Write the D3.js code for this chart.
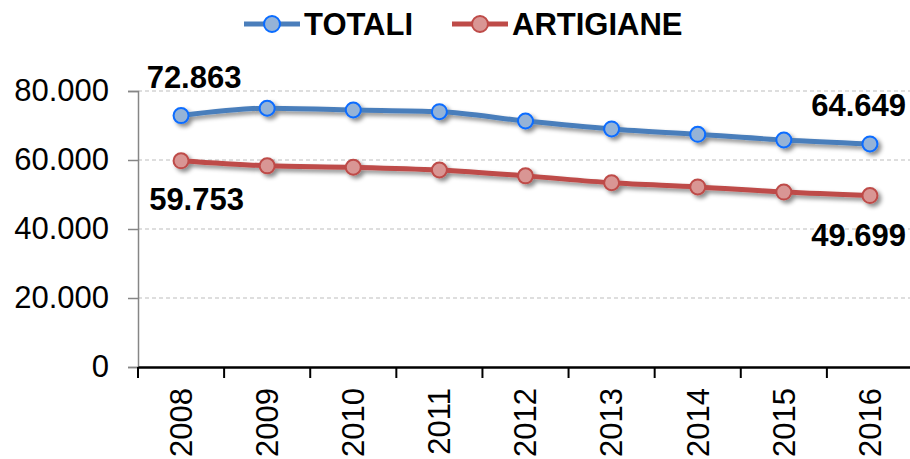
<!DOCTYPE html>
<html>
<head>
<meta charset="utf-8">
<script src="https://cdn.jsdelivr.net/npm/d3@7"></script>
<style>
  body { margin: 0; background: #fff; }
  svg { font-family: "Liberation Sans", Arial, sans-serif; }
</style>
</head>
<body>
<div id="chart"></div>
<script>
const years = ['2008', '2009', '2010', '2011', '2012', '2013', '2014', '2015', '2016'];
const totali = [72863, 75000, 74500, 74000, 71300, 69000, 67450, 65800, 64649];
const artigiane = [59753, 58300, 57900, 57100, 55400, 53400, 52200, 50700, 49699];
const yTicks = [0, 20000, 40000, 60000, 80000];

const W = 910, H = 459;
const FS = 31;
const margin = { top: 91, right: 0, bottom: 92, left: 138 };
const width = 913 - margin.left;
const height = 367 - margin.top;

const svg = d3.select('#chart').append('svg')
    .attr('width', W).attr('height', H);

const defs = svg.append('defs');
const f = defs.append('filter').attr('id', 'shadow')
    .attr('x', '-10%').attr('y', '-50%').attr('width', '130%').attr('height', '250%');
f.append('feDropShadow').attr('dx', 3).attr('dy', 3).attr('stdDeviation', 2)
    .attr('flood-color', '#000').attr('flood-opacity', 0.45);

const g = svg.append('g').attr('transform', `translate(${margin.left},${margin.top})`);

const x = d3.scaleBand().domain(years).range([0, width]);
const y = d3.scaleLinear().domain([0, 80000]).range([height, 0]);

// gridlines
g.selectAll('.grid').data(yTicks.filter(d => d > 0)).enter().append('line')
    .attr('x1', 0).attr('x2', width)
    .attr('y1', d => y(d)).attr('y2', d => y(d))
    .attr('stroke', '#bdbdbd').attr('stroke-width', 1.2)
    .attr('stroke-dasharray', '4,3');

const fmt = d => d3.format(',')(d).replace(/,/g, '.');

// y axis
const yAxis = g.append('g')
    .call(d3.axisLeft(y).tickValues(yTicks).tickSize(10).tickPadding(19).tickFormat(fmt));
yAxis.select('.domain').attr('stroke', '#868686').attr('stroke-width', 1.5);
yAxis.selectAll('.tick line').attr('stroke', '#868686').attr('stroke-width', 1.5);
yAxis.selectAll('text').attr('font-size', FS).attr('fill', '#000')
    .attr('font-family', '"Liberation Sans", Arial, sans-serif');

// x axis
const xAxis = g.append('g').attr('transform', `translate(0,${height})`)
    .call(d3.axisBottom(x).tickSize(0).tickPadding(0));
xAxis.select('.domain').attr('stroke', '#000').attr('stroke-width', 2.5);
xAxis.selectAll('.tick text')
    .attr('font-size', FS).attr('fill', '#000')
    .attr('font-family', '"Liberation Sans", Arial, sans-serif')
    .attr('transform', 'rotate(-90)')
    .attr('text-anchor', 'end')
    .attr('x', -21).attr('y', 0).attr('dy', '0.35em');
// tick marks between categories
g.selectAll('.xtick').data(years).enter().append('line')
    .attr('x1', d => x(d)).attr('x2', d => x(d))
    .attr('y1', height).attr('y2', height + 11)
    .attr('stroke', '#000').attr('stroke-width', 2);

const series = [
    { name: 'TOTALI', values: totali, line: '#4a7ebb', fill: '#95b3d7', stroke: '#0a6cff' },
    { name: 'ARTIGIANE', values: artigiane, line: '#be4b48', fill: '#d99694', stroke: '#be4b48' }
];

const cx = d => x(d) + x.bandwidth() / 2;
const line = d3.line().x((d, i) => cx(years[i])).y(d => y(d)).curve(d3.curveMonotoneX);

series.forEach(s => {
    const sg = g.append('g').attr('filter', 'url(#shadow)');
    sg.append('path').datum(s.values)
        .attr('d', line).attr('fill', 'none')
        .attr('stroke', s.line).attr('stroke-width', 5);
    sg.selectAll('circle').data(s.values).enter().append('circle')
        .attr('cx', (d, i) => cx(years[i])).attr('cy', d => y(d))
        .attr('r', 7.5).attr('fill', s.fill)
        .attr('stroke', s.stroke).attr('stroke-width', 2);
});

// data labels
const lab = (txt, xx, yy, anchor) => svg.append('text')
    .attr('x', xx).attr('y', yy).attr('text-anchor', anchor)
    .attr('font-size', FS).attr('font-weight', 'bold').attr('fill', '#000').text(txt);
const last = years.length - 1;
lab(fmt(totali[0]), margin.left + cx(years[0]) + 13, margin.top + y(totali[0]) - 28, 'middle');
lab(fmt(artigiane[0]), margin.left + cx(years[0]) + 15.5, margin.top + y(artigiane[0]) + 49, 'middle');
lab(fmt(totali[last]), 906, margin.top + y(totali[last]) - 28, 'end');
lab(fmt(artigiane[last]), 906, margin.top + y(artigiane[last]) + 50, 'end');

// legend
const legend = [
    { s: series[0], x0: 244, tx: 304 },
    { s: series[1], x0: 452, tx: 512 }
];
legend.forEach(l => {
    const lg = svg.append('g');
    lg.append('line').attr('x1', l.x0).attr('x2', l.x0 + 56)
        .attr('y1', 24).attr('y2', 24)
        .attr('stroke', l.s.line).attr('stroke-width', 5);
    lg.append('circle').attr('cx', l.x0 + 28).attr('cy', 24).attr('r', 8)
        .attr('fill', l.s.fill).attr('stroke', l.s.stroke).attr('stroke-width', 2);
    lg.append('text').attr('x', l.tx).attr('y', 35)
        .attr('font-size', FS).attr('font-weight', 'bold').attr('fill', '#000')
        .text(l.s.name);
});
</script>
</body>
</html>
